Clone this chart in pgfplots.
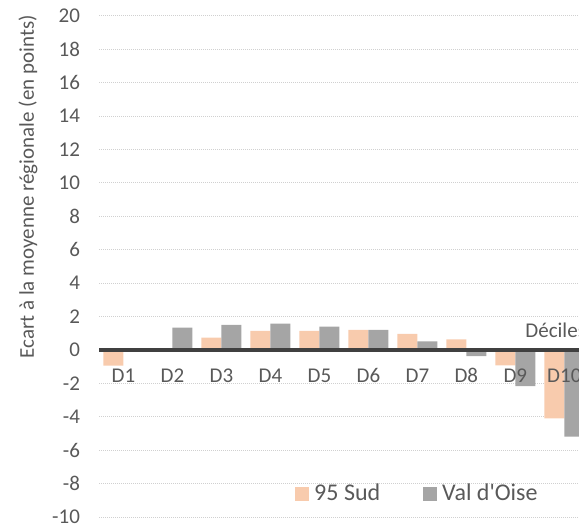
\documentclass[border=0pt]{standalone}
\usepackage{pgfplots}
\pgfplotsset{compat=1.18}
\usetikzlibrary{calc}
\usepackage{fontspec}
\setmainfont{Carlito}
\newfontfamily\plaincarlito{Carlito}
\definecolor{orng}{HTML}{F8CBAD}
\definecolor{gry}{HTML}{A5A5A5}
\definecolor{txt}{HTML}{595959}
\definecolor{grd}{HTML}{D0D0D0}
\definecolor{zl}{HTML}{404040}
\pgfplotsset{layers/mylayers/.define layer set={axis background,axis grid,main,axis ticks,axis lines,axis tick labels,axis descriptions,axis foreground}{/pgfplots/layers/standard}}
\begin{document}
\begin{tikzpicture}
\begin{axis}[
 name=ax, set layers=mylayers,
 scale only axis, width=240pt, height=250.5pt,
 xmin=-0.5, xmax=9.3, ymin=-10, ymax=20,
 ytick={-10,-8,...,20},
 xtick={0,...,9}, xticklabels={D1,D2,D3,D4,D5,D6,D7,D8,D9,D10},
 ybar=0pt, bar width=10pt,
 axis line style={draw=none}, tick style={draw=none},
 ymajorgrids, grid style={grd, line width=0.5pt, dash pattern=on 0.5pt off 0.5pt},
 ticklabel style={font=\fontsize{10.5}{12}\selectfont, text=txt},
 /pgf/number format/assume math mode=true,
 yticklabel style={xshift=-6pt},
 xticklabel style={anchor=center, yshift=75pt},
 ylabel={Ecart à la moyenne régionale (en points)},
 ylabel style={at={(axis description cs:-0.148,0.659)}, anchor=center, font=\fontsize{10.5}{12}\selectfont, text=txt},
 legend columns=2,
 legend style={draw=none, fill=none, inner sep=0pt, at={(0.408,0.046)}, anchor=west,
   font=\plaincarlito\fontsize{12}{14}\selectfont, text=txt,
   nodes={inner xsep=0pt, inner ysep=0pt},
   /tikz/every even column/.append style={column sep=21.5pt}},
 legend image code/.code={\fill[#1] (0pt,-3.5pt) rectangle (7pt,3.5pt); \path (9.5pt,0pt);},
]
\addplot[fill=orng, draw=none] coordinates {(0,-0.94) (1,0.06) (2,0.74) (3,1.14) (4,1.14) (5,1.2) (6,0.96) (7,0.64) (8,-0.92) (9,-4.1)};
\addplot[fill=gry, draw=none] coordinates {(0,0.05) (1,1.34) (2,1.5) (3,1.58) (4,1.4) (5,1.2) (6,0.52) (7,-0.36) (8,-2.17) (9,-5.18)};
\legend{95 Sud, Val d'Oise}
\draw[zl, line width=1.6pt] (axis cs:-0.5,0) -- (axis cs:9.3,0);
\end{axis}
\node[anchor=west, font=\fontsize{10.5}{12}\selectfont, text=txt, inner sep=0pt] at ($(ax.south west)+(213pt,93.5pt)$) {Déciles};
\pgfresetboundingbox
\path[use as bounding box] ($(ax.south west)+(-49.5pt,-4.5pt)$) rectangle ($(ax.north east)+(0pt,8pt)$);
\end{tikzpicture}
\end{document}
